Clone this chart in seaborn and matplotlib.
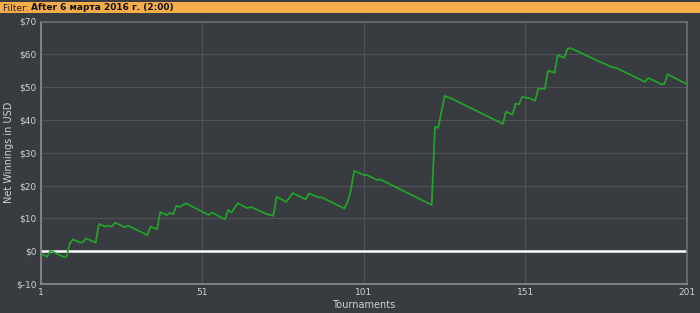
import matplotlib
matplotlib.use("Agg")
import matplotlib.pyplot as plt
import seaborn as sns
import pandas as pd

tournaments = [1, 3, 4, 5, 8, 9, 10, 11, 13, 14, 15, 18, 19, 21, 22, 23, 24, 27, 28,
               34, 35, 37, 38, 40, 41, 42, 43, 44, 46, 53, 54, 58, 59, 60, 62, 65, 66,
               71, 73, 74, 77, 79, 83, 84, 87, 88, 95, 96, 97, 98, 101, 102, 105, 106,
               122, 123, 124, 126, 128, 129, 144, 145, 147, 148, 149, 150, 152, 154,
               155, 157, 158, 160, 161, 163, 164, 165, 173, 178, 179, 188, 189, 193,
               194, 195, 201]
winnings = [-0.7, -1.7, 0.2, -0.3, -1.7, -1.7, 2.4, 3.6, 2.7, 2.7, 3.9, 2.6, 8.3, 7.5,
            7.8, 7.5, 8.7, 7.3, 7.8, 4.9, 7.5, 6.7, 11.9, 11.0, 11.7, 11.3, 13.8, 13.5,
            14.6, 11.0, 11.8, 9.7, 12.6, 11.8, 14.6, 13.1, 13.5, 11.3, 10.8, 16.6, 15.0,
            17.7, 15.8, 17.6, 16.4, 16.4, 13.0, 15.1, 18.6, 24.5, 23.2, 23.2, 21.7, 21.9,
            14.1, 37.9, 37.6, 47.3, 46.6, 46.1, 38.8, 42.5, 41.6, 45.0, 44.8, 47.0, 46.7,
            45.9, 49.6, 49.5, 55.0, 54.4, 59.8, 58.9, 61.6, 61.9, 58.2, 56.0, 55.9, 51.6,
            52.8, 50.9, 50.9, 53.9, 50.9]
x_ticks = [1, 51, 101, 151, 201]
y_ticks = [-10, 0, 10, 20, 30, 40, 50, 60, 70]
y_tick_labels = ["$-10", "$0", "$10", "$20", "$30", "$40", "$50", "$60", "$70"]
filter_label = "Filter: "
filter_value = "After 6 марта 2016 г. (2:00)"

df = pd.DataFrame({"Tournaments": tournaments, "Net Winnings in USD": winnings})

sns.set_theme(style="dark")
plt.rcParams['font.family'] = ['DejaVu Sans']

BG = "#383b3f"
fig = plt.figure(figsize=(7, 3.13), dpi=100, facecolor=BG)

# filter bar
bar = fig.add_axes([0, 1 - 13 / 313, 1, 11 / 313])
bar.set_facecolor("#f4ad4a")
bar.set_xticks([]); bar.set_yticks([])
for s in bar.spines.values():
    s.set_visible(False)
t1 = bar.text(0.004, 0.45, filter_label, transform=bar.transAxes, fontsize=6.5,
              color="#222222", va="center", ha="left")
fig.canvas.draw()
bb = t1.get_window_extent()
x_next = (bb.x1) / fig.bbox.width
fig.text(x_next, 1 - 7.5 / 313, filter_value, fontsize=6.5, fontweight="bold",
         color="#111111", va="center", ha="left")

ax = fig.add_axes([40.7 / 700, 1 - 284 / 313, (687 - 40.7) / 700, (284 - 21.5) / 313])
ax.set_facecolor(BG)
ax.axhline(0, color="white", lw=1.8, zorder=2)
sns.lineplot(data=df, x="Tournaments", y="Net Winnings in USD", ax=ax,
             color="#22a22a", lw=1.3, zorder=3)
ax.set_xlim(1, 201)
ax.set_ylim(-10, 70)
ax.set_xticks(x_ticks)
ax.set_xticklabels([str(v) for v in x_ticks])
ax.set_yticks(y_ticks)
ax.set_yticklabels(y_tick_labels)
ax.grid(True, color="#4e5256", lw=0.8)
ax.tick_params(axis="both", colors="#d0d0d0", labelsize=6.5, length=0, pad=3)
for s in ax.spines.values():
    s.set_color("#6c7074")
    s.set_linewidth(1.2)
ax.spines["left"].set_color("#8a8e92")
ax.spines["bottom"].set_color("#8a8e92")
ax.set_xlabel("Tournaments", color="#d0d0d0", fontsize=7, labelpad=2)
ax.set_ylabel("Net Winnings in USD", color="#d0d0d0", fontsize=7)
ax.yaxis.set_label_coords(-0.041, 0.5)

fig.savefig("out.png", dpi=100, facecolor=BG)
